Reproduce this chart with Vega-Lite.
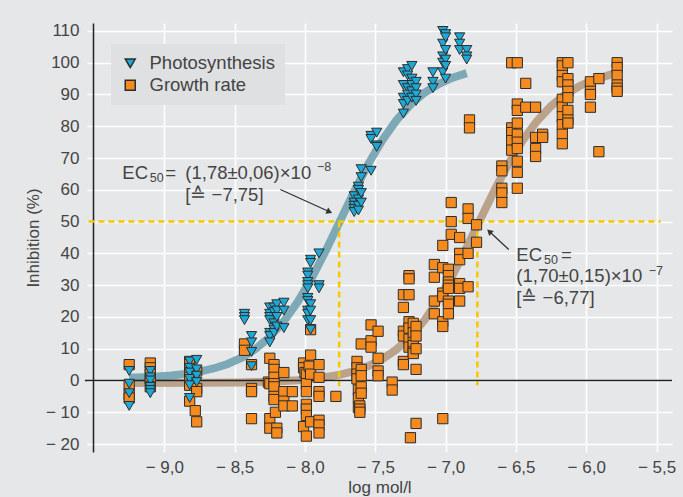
{
  "$schema": "https://vega.github.io/schema/vega-lite/v6.json",
  "width": 585,
  "height": 429,
  "autosize": "none",
  "padding": {"left": 87, "top": 23, "right": 11, "bottom": 45},
  "background": "#e6e7e9",
  "config": {
    "view": {"stroke": null},
    "font": "Liberation Sans",
    "axis": {"gridColor": "#ffffff", "gridWidth": 1.6, "gridOpacity": 1, "labelFontSize": 17, "labelColor": "#444444", "titleFontSize": 17, "titleFontWeight": "normal", "titleColor": "#444444", "ticks": false},
    "legend": {"orient": "none", "legendX": 24, "legendY": 21, "fillColor": "#dfe0e2", "padding": 10, "labelFontSize": 18.5, "labelColor": "#444444", "symbolSize": 100, "rowPadding": 3, "labelOffset": 10, "title": null}
  },
  "datasets": {
    "pts": [
      {"x": -9.25, "y": 5, "s": "Growth rate"}, {"x": -9.25, "y": -1.5, "s": "Growth rate"}, {"x": -9.25, "y": -4.5, "s": "Growth rate"}, {"x": -9.25, "y": -5.5, "s": "Growth rate"},
      {"x": -9.1, "y": 5.5, "s": "Growth rate"}, {"x": -9.1, "y": 4, "s": "Growth rate"}, {"x": -9.1, "y": 2, "s": "Growth rate"}, {"x": -9.1, "y": 0.5, "s": "Growth rate"}, {"x": -9.1, "y": -2, "s": "Growth rate"},
      {"x": -8.82, "y": 6, "s": "Growth rate"}, {"x": -8.82, "y": 5, "s": "Growth rate"}, {"x": -8.82, "y": 2.5, "s": "Growth rate"}, {"x": -8.82, "y": 1, "s": "Growth rate"}, {"x": -8.82, "y": -1.5, "s": "Growth rate"}, {"x": -8.82, "y": -6.5, "s": "Growth rate"},
      {"x": -8.77, "y": 3, "s": "Growth rate"}, {"x": -8.77, "y": -2.5, "s": "Growth rate"}, {"x": -8.77, "y": -3.5, "s": "Growth rate"}, {"x": -8.78, "y": -9.5, "s": "Growth rate"}, {"x": -8.77, "y": -13, "s": "Growth rate"},
      {"x": -8.43, "y": 11.5, "s": "Growth rate"}, {"x": -8.43, "y": 9.5, "s": "Growth rate"},
      {"x": -8.38, "y": 5, "s": "Growth rate"}, {"x": -8.38, "y": -2.5, "s": "Growth rate"}, {"x": -8.38, "y": -3.5, "s": "Growth rate"}, {"x": -8.38, "y": -12, "s": "Growth rate"},
      {"x": -8.25, "y": 7, "s": "Growth rate"}, {"x": -8.26, "y": -0.5, "s": "Growth rate"}, {"x": -8.25, "y": -1, "s": "Growth rate"}, {"x": -8.25, "y": -12, "s": "Growth rate"}, {"x": -8.25, "y": -15, "s": "Growth rate"},
      {"x": -8.22, "y": 5, "s": "Growth rate"}, {"x": -8.22, "y": 3.5, "s": "Growth rate"}, {"x": -8.22, "y": 1, "s": "Growth rate"}, {"x": -8.22, "y": -1, "s": "Growth rate"}, {"x": -8.22, "y": -2, "s": "Growth rate"}, {"x": -8.22, "y": -5, "s": "Growth rate"}, {"x": -8.22, "y": -6, "s": "Growth rate"}, {"x": -8.21, "y": -10, "s": "Growth rate"}, {"x": -8.2, "y": -15, "s": "Growth rate"}, {"x": -8.2, "y": -16.5, "s": "Growth rate"},
      {"x": -8.15, "y": 2.5, "s": "Growth rate"}, {"x": -8.15, "y": -3.5, "s": "Growth rate"}, {"x": -8.15, "y": -6.5, "s": "Growth rate"}, {"x": -8.15, "y": -8, "s": "Growth rate"},
      {"x": -8.09, "y": -3.5, "s": "Growth rate"}, {"x": -8.09, "y": -8, "s": "Growth rate"},
      {"x": -8.01, "y": 5.5, "s": "Growth rate"}, {"x": -8.01, "y": 4, "s": "Growth rate"}, {"x": -8.0, "y": 2.5, "s": "Growth rate"}, {"x": -7.99, "y": 2, "s": "Growth rate"}, {"x": -7.99, "y": -1, "s": "Growth rate"}, {"x": -7.99, "y": -3.5, "s": "Growth rate"}, {"x": -7.99, "y": -7.5, "s": "Growth rate"}, {"x": -7.99, "y": -9, "s": "Growth rate"}, {"x": -7.99, "y": -11, "s": "Growth rate"}, {"x": -8.01, "y": -14.5, "s": "Growth rate"}, {"x": -7.99, "y": -17.5, "s": "Growth rate"},
      {"x": -7.96, "y": 16, "s": "Growth rate"}, {"x": -7.96, "y": 8, "s": "Growth rate"}, {"x": -7.97, "y": 4.5, "s": "Growth rate"}, {"x": -7.96, "y": 2, "s": "Growth rate"}, {"x": -7.96, "y": -13, "s": "Growth rate"},
      {"x": -7.9, "y": 5, "s": "Growth rate"}, {"x": -7.9, "y": 1, "s": "Growth rate"}, {"x": -7.9, "y": -3.5, "s": "Growth rate"}, {"x": -7.9, "y": -5, "s": "Growth rate"}, {"x": -7.9, "y": -12.5, "s": "Growth rate"}, {"x": -7.9, "y": -14, "s": "Growth rate"}, {"x": -7.9, "y": -16.5, "s": "Growth rate"},
      {"x": -7.78, "y": -5, "s": "Growth rate"},
      {"x": -7.63, "y": 6, "s": "Growth rate"}, {"x": -7.63, "y": 4, "s": "Growth rate"}, {"x": -7.63, "y": 2, "s": "Growth rate"}, {"x": -7.63, "y": 0.5, "s": "Growth rate"}, {"x": -7.62, "y": -3, "s": "Growth rate"}, {"x": -7.62, "y": -5.5, "s": "Growth rate"}, {"x": -7.62, "y": -8.5, "s": "Growth rate"},
      {"x": -7.6, "y": 11.5, "s": "Growth rate"}, {"x": -7.6, "y": 3.5, "s": "Growth rate"}, {"x": -7.6, "y": 1.5, "s": "Growth rate"}, {"x": -7.6, "y": -2, "s": "Growth rate"}, {"x": -7.6, "y": -4, "s": "Growth rate"}, {"x": -7.61, "y": -8, "s": "Growth rate"}, {"x": -7.61, "y": -9, "s": "Growth rate"}, {"x": -7.61, "y": -10, "s": "Growth rate"},
      {"x": -7.53, "y": 17.5, "s": "Growth rate"}, {"x": -7.53, "y": 12.5, "s": "Growth rate"}, {"x": -7.53, "y": 10.5, "s": "Growth rate"},
      {"x": -7.48, "y": 15.5, "s": "Growth rate"}, {"x": -7.48, "y": 7, "s": "Growth rate"}, {"x": -7.48, "y": 3, "s": "Growth rate"}, {"x": -7.48, "y": 1.5, "s": "Growth rate"},
      {"x": -7.38, "y": -0.5, "s": "Growth rate"}, {"x": -7.38, "y": -3, "s": "Growth rate"},
      {"x": -7.3, "y": 27, "s": "Growth rate"}, {"x": -7.3, "y": 23, "s": "Growth rate"}, {"x": -7.3, "y": 15.5, "s": "Growth rate"}, {"x": -7.3, "y": 14, "s": "Growth rate"}, {"x": -7.3, "y": 6, "s": "Growth rate"}, {"x": -7.3, "y": 5, "s": "Growth rate"},
      {"x": -7.26, "y": 33, "s": "Growth rate"}, {"x": -7.26, "y": 32, "s": "Growth rate"}, {"x": -7.26, "y": 27, "s": "Growth rate"}, {"x": -7.26, "y": 18.5, "s": "Growth rate"}, {"x": -7.26, "y": 16.5, "s": "Growth rate"}, {"x": -7.26, "y": 13, "s": "Growth rate"}, {"x": -7.26, "y": 10.5, "s": "Growth rate"}, {"x": -7.25, "y": -18, "s": "Growth rate"},
      {"x": -7.23, "y": 18, "s": "Growth rate"}, {"x": -7.23, "y": 15, "s": "Growth rate"}, {"x": -7.23, "y": 12, "s": "Growth rate"}, {"x": -7.23, "y": 11, "s": "Growth rate"}, {"x": -7.23, "y": 9, "s": "Growth rate"}, {"x": -7.23, "y": 8.5, "s": "Growth rate"},
      {"x": -7.21, "y": 17, "s": "Growth rate"}, {"x": -7.21, "y": 14, "s": "Growth rate"}, {"x": -7.21, "y": 10, "s": "Growth rate"}, {"x": -7.21, "y": 3.5, "s": "Growth rate"}, {"x": -7.21, "y": -13.5, "s": "Growth rate"},
      {"x": -7.08, "y": 36.5, "s": "Growth rate"}, {"x": -7.08, "y": 32.5, "s": "Growth rate"}, {"x": -7.08, "y": 25, "s": "Growth rate"}, {"x": -7.08, "y": 21, "s": "Growth rate"},
      {"x": -7.02, "y": 42.5, "s": "Growth rate"}, {"x": -7.02, "y": 35.5, "s": "Growth rate"}, {"x": -7.02, "y": 27.5, "s": "Growth rate"}, {"x": -7.02, "y": 26.5, "s": "Growth rate"}, {"x": -7.02, "y": 18.5, "s": "Growth rate"}, {"x": -7.02, "y": 17, "s": "Growth rate"}, {"x": -7.02, "y": -12, "s": "Growth rate"},
      {"x": -6.98, "y": 35, "s": "Growth rate"}, {"x": -6.98, "y": 33, "s": "Growth rate"}, {"x": -6.98, "y": 31, "s": "Growth rate"}, {"x": -6.98, "y": 30, "s": "Growth rate"}, {"x": -6.98, "y": 29, "s": "Growth rate"}, {"x": -6.98, "y": 25, "s": "Growth rate"}, {"x": -6.98, "y": 24, "s": "Growth rate"}, {"x": -6.98, "y": 21, "s": "Growth rate"},
      {"x": -6.96, "y": 56, "s": "Growth rate"}, {"x": -6.96, "y": 50, "s": "Growth rate"}, {"x": -6.96, "y": 46, "s": "Growth rate"},
      {"x": -6.9, "y": 45, "s": "Growth rate"}, {"x": -6.9, "y": 40, "s": "Growth rate"}, {"x": -6.9, "y": 38, "s": "Growth rate"}, {"x": -6.9, "y": 30.5, "s": "Growth rate"}, {"x": -6.9, "y": 29, "s": "Growth rate"}, {"x": -6.9, "y": 25, "s": "Growth rate"},
      {"x": -6.84, "y": 54, "s": "Growth rate"}, {"x": -6.84, "y": 51, "s": "Growth rate"}, {"x": -6.84, "y": 40, "s": "Growth rate"}, {"x": -6.84, "y": 29.5, "s": "Growth rate"},
      {"x": -6.83, "y": 82, "s": "Growth rate"}, {"x": -6.83, "y": 79.5, "s": "Growth rate"},
      {"x": -6.78, "y": 49, "s": "Growth rate"}, {"x": -6.78, "y": 43.5, "s": "Growth rate"},
      {"x": -6.6, "y": 67.5, "s": "Growth rate"}, {"x": -6.6, "y": 66, "s": "Growth rate"}, {"x": -6.6, "y": 60.5, "s": "Growth rate"}, {"x": -6.6, "y": 59, "s": "Growth rate"}, {"x": -6.6, "y": 56, "s": "Growth rate"},
      {"x": -6.53, "y": 100, "s": "Growth rate"}, {"x": -6.53, "y": 79.5, "s": "Growth rate"}, {"x": -6.53, "y": 78, "s": "Growth rate"}, {"x": -6.53, "y": 75.5, "s": "Growth rate"}, {"x": -6.53, "y": 72.5, "s": "Growth rate"},
      {"x": -6.49, "y": 100, "s": "Growth rate"}, {"x": -6.49, "y": 87, "s": "Growth rate"}, {"x": -6.49, "y": 85, "s": "Growth rate"}, {"x": -6.49, "y": 81, "s": "Growth rate"}, {"x": -6.49, "y": 77.5, "s": "Growth rate"}, {"x": -6.49, "y": 75, "s": "Growth rate"}, {"x": -6.49, "y": 73, "s": "Growth rate"}, {"x": -6.49, "y": 69, "s": "Growth rate"}, {"x": -6.49, "y": 65.5, "s": "Growth rate"}, {"x": -6.49, "y": 60.5, "s": "Growth rate"},
      {"x": -6.43, "y": 93.5, "s": "Growth rate"}, {"x": -6.43, "y": 86, "s": "Growth rate"},
      {"x": -6.36, "y": 86, "s": "Growth rate"}, {"x": -6.36, "y": 76.5, "s": "Growth rate"}, {"x": -6.36, "y": 73, "s": "Growth rate"}, {"x": -6.36, "y": 70.5, "s": "Growth rate"},
      {"x": -6.31, "y": 77.5, "s": "Growth rate"}, {"x": -6.31, "y": 76.5, "s": "Growth rate"},
      {"x": -6.17, "y": 100, "s": "Growth rate"}, {"x": -6.17, "y": 99, "s": "Growth rate"}, {"x": -6.17, "y": 96, "s": "Growth rate"}, {"x": -6.17, "y": 94, "s": "Growth rate"}, {"x": -6.17, "y": 88.5, "s": "Growth rate"}, {"x": -6.17, "y": 86, "s": "Growth rate"}, {"x": -6.17, "y": 83, "s": "Growth rate"}, {"x": -6.17, "y": 80.5, "s": "Growth rate"}, {"x": -6.17, "y": 77.5, "s": "Growth rate"}, {"x": -6.17, "y": 74.5, "s": "Growth rate"},
      {"x": -6.13, "y": 100, "s": "Growth rate"}, {"x": -6.13, "y": 95, "s": "Growth rate"}, {"x": -6.13, "y": 93, "s": "Growth rate"}, {"x": -6.13, "y": 91, "s": "Growth rate"}, {"x": -6.13, "y": 89, "s": "Growth rate"}, {"x": -6.13, "y": 85, "s": "Growth rate"}, {"x": -6.13, "y": 82, "s": "Growth rate"}, {"x": -6.13, "y": 81, "s": "Growth rate"},
      {"x": -5.97, "y": 94, "s": "Growth rate"}, {"x": -5.97, "y": 91, "s": "Growth rate"}, {"x": -5.97, "y": 90, "s": "Growth rate"}, {"x": -5.97, "y": 86, "s": "Growth rate"},
      {"x": -5.91, "y": 95, "s": "Growth rate"}, {"x": -5.91, "y": 72, "s": "Growth rate"},
      {"x": -5.78, "y": 100, "s": "Growth rate"}, {"x": -5.78, "y": 98.5, "s": "Growth rate"}, {"x": -5.78, "y": 96, "s": "Growth rate"}, {"x": -5.78, "y": 93, "s": "Growth rate"}, {"x": -5.78, "y": 92, "s": "Growth rate"}, {"x": -5.78, "y": 91, "s": "Growth rate"},
      {"x": -9.25, "y": 3, "s": "Photosynthesis"}, {"x": -9.25, "y": -1, "s": "Photosynthesis"}, {"x": -9.25, "y": -4, "s": "Photosynthesis"}, {"x": -9.25, "y": -8, "s": "Photosynthesis"},
      {"x": -9.1, "y": 3, "s": "Photosynthesis"}, {"x": -9.1, "y": 1, "s": "Photosynthesis"}, {"x": -9.1, "y": 0, "s": "Photosynthesis"}, {"x": -9.1, "y": -2, "s": "Photosynthesis"}, {"x": -9.1, "y": -3, "s": "Photosynthesis"}, {"x": -9.1, "y": -4, "s": "Photosynthesis"},
      {"x": -8.82, "y": 6, "s": "Photosynthesis"}, {"x": -8.82, "y": 4, "s": "Photosynthesis"}, {"x": -8.82, "y": 2.5, "s": "Photosynthesis"}, {"x": -8.82, "y": 0.5, "s": "Photosynthesis"}, {"x": -8.82, "y": -1.5, "s": "Photosynthesis"}, {"x": -8.82, "y": -5.5, "s": "Photosynthesis"},
      {"x": -8.77, "y": 6.5, "s": "Photosynthesis"}, {"x": -8.77, "y": 3.5, "s": "Photosynthesis"}, {"x": -8.77, "y": 1.5, "s": "Photosynthesis"}, {"x": -8.77, "y": -0.5, "s": "Photosynthesis"},
      {"x": -8.43, "y": 21, "s": "Photosynthesis"}, {"x": -8.43, "y": 20, "s": "Photosynthesis"}, {"x": -8.43, "y": 19, "s": "Photosynthesis"},
      {"x": -8.38, "y": 14, "s": "Photosynthesis"}, {"x": -8.38, "y": 12, "s": "Photosynthesis"}, {"x": -8.38, "y": 9, "s": "Photosynthesis"}, {"x": -8.38, "y": 4.5, "s": "Photosynthesis"},
      {"x": -8.25, "y": 23, "s": "Photosynthesis"}, {"x": -8.25, "y": 21, "s": "Photosynthesis"}, {"x": -8.25, "y": 20, "s": "Photosynthesis"}, {"x": -8.25, "y": 19, "s": "Photosynthesis"}, {"x": -8.25, "y": 15, "s": "Photosynthesis"}, {"x": -8.25, "y": 14, "s": "Photosynthesis"}, {"x": -8.25, "y": 12, "s": "Photosynthesis"},
      {"x": -8.22, "y": 23, "s": "Photosynthesis"}, {"x": -8.22, "y": 21.5, "s": "Photosynthesis"}, {"x": -8.22, "y": 18, "s": "Photosynthesis"}, {"x": -8.22, "y": 16, "s": "Photosynthesis"}, {"x": -8.22, "y": 15, "s": "Photosynthesis"},
      {"x": -8.2, "y": 24, "s": "Photosynthesis"}, {"x": -8.2, "y": 22, "s": "Photosynthesis"}, {"x": -8.2, "y": 20, "s": "Photosynthesis"}, {"x": -8.2, "y": 17, "s": "Photosynthesis"},
      {"x": -8.15, "y": 24.5, "s": "Photosynthesis"}, {"x": -8.15, "y": 22, "s": "Photosynthesis"}, {"x": -8.15, "y": 16.5, "s": "Photosynthesis"},
      {"x": -7.98, "y": 34, "s": "Photosynthesis"}, {"x": -7.98, "y": 33, "s": "Photosynthesis"}, {"x": -7.98, "y": 31, "s": "Photosynthesis"}, {"x": -7.98, "y": 30, "s": "Photosynthesis"}, {"x": -7.98, "y": 29, "s": "Photosynthesis"}, {"x": -7.98, "y": 26, "s": "Photosynthesis"}, {"x": -7.98, "y": 25, "s": "Photosynthesis"}, {"x": -7.98, "y": 22, "s": "Photosynthesis"}, {"x": -7.98, "y": 21, "s": "Photosynthesis"}, {"x": -7.98, "y": 19, "s": "Photosynthesis"},
      {"x": -7.96, "y": 38, "s": "Photosynthesis"}, {"x": -7.96, "y": 37, "s": "Photosynthesis"}, {"x": -7.96, "y": 24, "s": "Photosynthesis"}, {"x": -7.96, "y": 22, "s": "Photosynthesis"}, {"x": -7.96, "y": 19, "s": "Photosynthesis"}, {"x": -7.96, "y": 16, "s": "Photosynthesis"},
      {"x": -7.9, "y": 40, "s": "Photosynthesis"}, {"x": -7.9, "y": 30, "s": "Photosynthesis"}, {"x": -7.9, "y": 29, "s": "Photosynthesis"},
      {"x": -7.65, "y": 58, "s": "Photosynthesis"}, {"x": -7.65, "y": 56, "s": "Photosynthesis"}, {"x": -7.65, "y": 55, "s": "Photosynthesis"}, {"x": -7.65, "y": 54, "s": "Photosynthesis"}, {"x": -7.65, "y": 53, "s": "Photosynthesis"},
      {"x": -7.62, "y": 61, "s": "Photosynthesis"}, {"x": -7.62, "y": 60, "s": "Photosynthesis"}, {"x": -7.62, "y": 57, "s": "Photosynthesis"}, {"x": -7.62, "y": 55, "s": "Photosynthesis"}, {"x": -7.62, "y": 53.5, "s": "Photosynthesis"},
      {"x": -7.6, "y": 66.5, "s": "Photosynthesis"}, {"x": -7.6, "y": 64, "s": "Photosynthesis"}, {"x": -7.6, "y": 59, "s": "Photosynthesis"}, {"x": -7.6, "y": 56, "s": "Photosynthesis"},
      {"x": -7.53, "y": 77, "s": "Photosynthesis"}, {"x": -7.53, "y": 76, "s": "Photosynthesis"}, {"x": -7.53, "y": 66, "s": "Photosynthesis"},
      {"x": -7.49, "y": 78, "s": "Photosynthesis"}, {"x": -7.49, "y": 74, "s": "Photosynthesis"}, {"x": -7.49, "y": 73.5, "s": "Photosynthesis"},
      {"x": -7.3, "y": 97, "s": "Photosynthesis"}, {"x": -7.3, "y": 93, "s": "Photosynthesis"}, {"x": -7.3, "y": 89, "s": "Photosynthesis"}, {"x": -7.3, "y": 87, "s": "Photosynthesis"}, {"x": -7.3, "y": 84, "s": "Photosynthesis"},
      {"x": -7.27, "y": 98, "s": "Photosynthesis"}, {"x": -7.27, "y": 96, "s": "Photosynthesis"}, {"x": -7.27, "y": 92, "s": "Photosynthesis"}, {"x": -7.27, "y": 90, "s": "Photosynthesis"}, {"x": -7.27, "y": 88, "s": "Photosynthesis"},
      {"x": -7.24, "y": 99, "s": "Photosynthesis"}, {"x": -7.24, "y": 95, "s": "Photosynthesis"}, {"x": -7.24, "y": 93, "s": "Photosynthesis"}, {"x": -7.24, "y": 91, "s": "Photosynthesis"}, {"x": -7.24, "y": 89, "s": "Photosynthesis"},
      {"x": -7.21, "y": 94, "s": "Photosynthesis"}, {"x": -7.21, "y": 92, "s": "Photosynthesis"}, {"x": -7.21, "y": 90, "s": "Photosynthesis"}, {"x": -7.21, "y": 88, "s": "Photosynthesis"},
      {"x": -7.09, "y": 97, "s": "Photosynthesis"}, {"x": -7.09, "y": 94, "s": "Photosynthesis"}, {"x": -7.09, "y": 92, "s": "Photosynthesis"},
      {"x": -7.02, "y": 110, "s": "Photosynthesis"}, {"x": -7.02, "y": 106, "s": "Photosynthesis"}, {"x": -7.02, "y": 102, "s": "Photosynthesis"}, {"x": -7.02, "y": 100, "s": "Photosynthesis"}, {"x": -7.02, "y": 97, "s": "Photosynthesis"},
      {"x": -7.0, "y": 109, "s": "Photosynthesis"}, {"x": -7.0, "y": 108, "s": "Photosynthesis"}, {"x": -7.0, "y": 104, "s": "Photosynthesis"}, {"x": -7.0, "y": 101, "s": "Photosynthesis"}, {"x": -7.0, "y": 99, "s": "Photosynthesis"}, {"x": -7.0, "y": 95, "s": "Photosynthesis"},
      {"x": -6.9, "y": 108, "s": "Photosynthesis"}, {"x": -6.9, "y": 106, "s": "Photosynthesis"}, {"x": -6.9, "y": 104, "s": "Photosynthesis"},
      {"x": -6.85, "y": 104, "s": "Photosynthesis"}, {"x": -6.85, "y": 102, "s": "Photosynthesis"}, {"x": -6.85, "y": 101, "s": "Photosynthesis"}
    ],
    "curve": [
      {"x": -9.25, "y": -0.79, "s": "Growth rate"}, {"x": -8.75, "y": -0.73, "s": "Growth rate"}, {"x": -8.45, "y": -0.6, "s": "Growth rate"}, {"x": -8.25, "y": -0.37, "s": "Growth rate"}, {"x": -8.05, "y": 0.09, "s": "Growth rate"}, {"x": -7.9, "y": 0.73, "s": "Growth rate"}, {"x": -7.75, "y": 1.83, "s": "Growth rate"}, {"x": -7.65, "y": 2.96, "s": "Growth rate"}, {"x": -7.55, "y": 4.55, "s": "Growth rate"}, {"x": -7.45, "y": 6.75, "s": "Growth rate"}, {"x": -7.35, "y": 9.76, "s": "Growth rate"}, {"x": -7.25, "y": 13.78, "s": "Growth rate"}, {"x": -7.15, "y": 18.98, "s": "Growth rate"}, {"x": -7.05, "y": 25.48, "s": "Growth rate"}, {"x": -6.95, "y": 33.2, "s": "Growth rate"}, {"x": -6.85, "y": 41.88, "s": "Growth rate"}, {"x": -6.77, "y": 49.2, "s": "Growth rate"}, {"x": -6.65, "y": 60.07, "s": "Growth rate"}, {"x": -6.55, "y": 68.42, "s": "Growth rate"}, {"x": -6.45, "y": 75.67, "s": "Growth rate"}, {"x": -6.35, "y": 81.66, "s": "Growth rate"}, {"x": -6.25, "y": 86.37, "s": "Growth rate"}, {"x": -6.15, "y": 89.95, "s": "Growth rate"}, {"x": -6.05, "y": 92.61, "s": "Growth rate"}, {"x": -5.95, "y": 94.55, "s": "Growth rate"}, {"x": -5.85, "y": 95.94, "s": "Growth rate"}, {"x": -5.78, "y": 96.9, "s": "Growth rate"},
      {"x": -9.25, "y": 0.86, "s": "Photosynthesis"}, {"x": -9.15, "y": 1.02, "s": "Photosynthesis"}, {"x": -9.05, "y": 1.25, "s": "Photosynthesis"}, {"x": -8.95, "y": 1.59, "s": "Photosynthesis"}, {"x": -8.85, "y": 2.08, "s": "Photosynthesis"}, {"x": -8.75, "y": 2.78, "s": "Photosynthesis"}, {"x": -8.65, "y": 3.78, "s": "Photosynthesis"}, {"x": -8.55, "y": 5.21, "s": "Photosynthesis"}, {"x": -8.45, "y": 7.2, "s": "Photosynthesis"}, {"x": -8.35, "y": 9.97, "s": "Photosynthesis"}, {"x": -8.25, "y": 13.71, "s": "Photosynthesis"}, {"x": -8.15, "y": 18.63, "s": "Photosynthesis"}, {"x": -8.05, "y": 24.87, "s": "Photosynthesis"}, {"x": -7.95, "y": 32.41, "s": "Photosynthesis"}, {"x": -7.85, "y": 41.03, "s": "Photosynthesis"}, {"x": -7.75, "y": 50.25, "s": "Photosynthesis"}, {"x": -7.65, "y": 59.48, "s": "Photosynthesis"}, {"x": -7.55, "y": 68.1, "s": "Photosynthesis"}, {"x": -7.45, "y": 75.63, "s": "Photosynthesis"}, {"x": -7.35, "y": 81.87, "s": "Photosynthesis"}, {"x": -7.25, "y": 86.79, "s": "Photosynthesis"}, {"x": -7.15, "y": 90.53, "s": "Photosynthesis"}, {"x": -7.05, "y": 93.29, "s": "Photosynthesis"}, {"x": -6.95, "y": 95.29, "s": "Photosynthesis"}, {"x": -6.85, "y": 96.72, "s": "Photosynthesis"}
    ],
    "dash": [
      {"x": -9.54, "x2": -5.47, "y": 50, "y2": 50},
      {"x": -7.757, "x2": -7.757, "y": 50, "y2": -1.8},
      {"x": -6.774, "x2": -6.774, "y": 50, "y2": -1.5}
    ],
    "zero": [{"x": -9.565, "x2": -5.39, "y": 0, "y2": 0}],
    "notes": [
      {"x": -9.299, "y": 65.4, "t": "EC"},
      {"x": -8.993, "y": 65.4, "t": "="},
      {"x": -8.851, "y": 65.4, "t": "(1,78±0,06)×10"},
      {"x": -8.851, "y": 58.5, "t": "[≙ −7,75]"},
      {"x": -6.497, "y": 39.6, "t": "EC"},
      {"x": -6.18, "y": 39.6, "t": "="},
      {"x": -6.497, "y": 32.8, "t": "(1,70±0,15)×10"},
      {"x": -6.497, "y": 26.0, "t": "[≙ −6,77]"}
    ],
    "small": [
      {"x": -9.104, "y": 63.8, "t": "50"},
      {"x": -7.915, "y": 67.2, "t": "−8"},
      {"x": -5.555, "y": 34.5, "t": "−7"},
      {"x": -6.3, "y": 38.0, "t": "50"}
    ],
    "arrows": [
      {"x": -8.175, "y": 60.1, "x2": -7.826, "y2": 53.1},
      {"x": -6.551, "y": 41.2, "x2": -6.689, "y2": 46.9}
    ]
  },
  "encoding": {
    "x": {"field": "x", "type": "quantitative", "scale": {"domain": [-9.55, -5.39], "nice": false, "zero": false},
      "axis": {"title": "log mol/l", "values": [-9, -8.5, -8, -7.5, -7, -6.5, -6, -5.5], "labelExpr": "replace(replace(format(datum.value, '.1f'), '.', ','), '−', '− ')", "grid": true, "domain": false, "labelPadding": 7, "titlePadding": 4}},
    "y": {"field": "y", "type": "quantitative", "scale": {"domain": [-22.5, 112.5], "nice": false, "zero": false},
      "axis": {"title": "Inhibition (%)", "values": [-20, -10, 0, 10, 20, 30, 40, 50, 60, 70, 80, 90, 100, 110], "labelExpr": "replace(format(datum.value, 'd'), '−', '− ')", "grid": true, "domain": true, "domainColor": "#222222", "domainWidth": 1.5, "offset": -6, "labelPadding": 14, "titlePadding": 3}}
  },
  "layer": [
    {
      "data": {"name": "curve"},
      "mark": {"type": "line", "strokeWidth": 8, "opacity": 0.85, "strokeCap": "butt"},
      "encoding": {
        "stroke": {"field": "s", "type": "nominal", "scale": {"domain": ["Growth rate", "Photosynthesis"], "range": ["#b3957a", "#6a9dad"]}, "legend": null}
      }
    },
    {
      "data": {"name": "dash"},
      "mark": {"type": "rule", "color": "#f5c800", "strokeWidth": 2.5, "strokeDash": [6, 4], "clip": false},
      "encoding": {"x2": {"field": "x2"}, "y2": {"field": "y2"}}
    },
    {
      "data": {"name": "zero"},
      "mark": {"type": "rule", "color": "#222222", "strokeWidth": 1.5, "clip": false},
      "encoding": {"x2": {"field": "x2"}, "y2": {"field": "y2"}}
    },
    {
      "data": {"name": "pts"},
      "mark": {"type": "point", "filled": true, "opacity": 1, "stroke": "#2d2d2d", "strokeWidth": 1, "size": 105},
      "encoding": {
        "fill": {"field": "s", "type": "nominal", "scale": {"domain": ["Photosynthesis", "Growth rate"], "range": ["#1ea8d6", "#f58a1f"]},
          "legend": {"orient": "none", "legendX": 24, "legendY": 21, "encode": {"symbols": {"update": {"stroke": {"value": "#2d2d2d"}, "strokeWidth": {"value": 1}}}}}},
        "shape": {"field": "s", "type": "nominal", "scale": {"domain": ["Photosynthesis", "Growth rate"], "range": ["triangle-down", "square"]},
          "legend": {"orient": "none", "legendX": 24, "legendY": 21, "encode": {"symbols": {"update": {"stroke": {"value": "#2d2d2d"}, "strokeWidth": {"value": 1}}}}}}
      }
    },
    {
      "data": {"name": "notes"},
      "mark": {"type": "text", "align": "left", "baseline": "middle", "fontSize": 18.5, "color": "#444444"},
      "encoding": {"text": {"field": "t"}}
    },
    {
      "data": {"name": "small"},
      "mark": {"type": "text", "align": "left", "baseline": "middle", "fontSize": 12.5, "color": "#444444"},
      "encoding": {"text": {"field": "t"}}
    },
    {
      "data": {"name": "arrows"},
      "mark": {"type": "rule", "color": "#333333", "strokeWidth": 1.3},
      "encoding": {"x2": {"field": "x2"}, "y2": {"field": "y2"}}
    },
    {
      "data": {"values": [{"x": -7.826, "y": 53.1}]},
      "mark": {"type": "point", "shape": "triangle-right", "filled": true, "color": "#333333", "size": 45, "angle": 24, "opacity": 1}
    },
    {
      "data": {"values": [{"x": -6.689, "y": 46.9}]},
      "mark": {"type": "point", "shape": "triangle-right", "filled": true, "color": "#333333", "size": 45, "angle": 223, "opacity": 1}
    }
  ]
}
